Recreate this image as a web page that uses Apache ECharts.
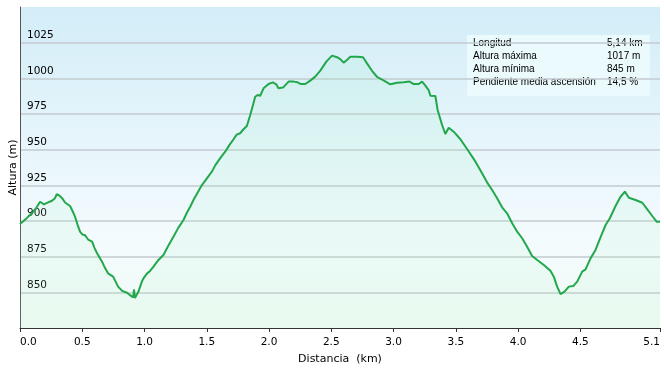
<!DOCTYPE html>
<html>
<head>
<meta charset="utf-8">
<script src="https://cdn.jsdelivr.net/npm/echarts@6/dist/echarts.min.js"></script>
<style>
html,body{margin:0;padding:0;background:#fff;}
#c{width:664px;height:371px;}
</style>
</head>
<body>
<div id="c"></div>
<script>
// Distance along the route (km)
const distKm = [
  0.000,0.054,0.107,0.129,0.161,0.193,0.225,0.257,0.281,0.295,0.314,0.338,0.362,0.378,0.402,0.422,0.442,0.462,0.482,0.502,
  0.523,0.547,0.579,0.599,0.619,0.659,0.683,0.707,0.748,0.768,0.788,0.820,0.860,0.884,0.908,0.916,0.923,0.932,0.949,0.965,
  0.981,0.997,1.021,1.045,1.072,1.112,1.152,1.190,1.232,1.270,1.313,1.340,1.367,1.393,1.427,1.461,1.501,1.541,1.568,1.594,
  1.620,1.648,1.680,1.715,1.740,1.768,1.795,1.822,1.849,1.875,1.889,1.908,1.929,1.956,1.996,2.031,2.058,2.076,2.112,2.157,
  2.197,2.229,2.256,2.291,2.331,2.371,2.412,2.460,2.506,2.546,2.572,2.599,2.626,2.653,2.707,2.755,2.787,2.827,2.867,2.916,
  2.974,3.028,3.081,3.129,3.162,3.202,3.229,3.248,3.282,3.296,3.336,3.354,3.390,3.416,3.443,3.483,3.537,3.596,3.658,3.711,
  3.751,3.792,3.832,3.872,3.912,3.953,3.993,4.033,4.073,4.113,4.154,4.207,4.260,4.287,4.314,4.341,4.373,4.408,4.443,4.475,
  4.515,4.542,4.582,4.622,4.662,4.703,4.737,4.783,4.823,4.858,4.890,4.944,4.998,5.038,5.078,5.113,5.140
];
// Elevation (m)
const elevM = [
  897.9,902.0,906.5,909.0,913.5,911.7,913.0,914.2,916.0,918.9,918.0,916.0,913.0,911.7,910.5,907.0,903.0,897.5,892.5,890.5,
  890.0,887.0,885.5,881.0,877.4,871.5,867.0,863.3,861.0,857.5,854.0,851.0,849.7,848.0,846.5,852.0,846.0,846.5,850.0,854.0,
  858.0,860.5,863.3,865.0,868.0,872.7,876.2,882.5,889.0,895.0,900.7,905.8,910.0,914.7,920.0,925.2,929.9,934.6,939.0,942.3,
  945.5,948.6,953.0,957.3,960.5,961.5,964.3,966.6,974.3,982.5,987.1,988.3,987.8,993.0,996.0,997.2,995.8,993.0,993.5,997.7,
  997.7,997.2,996.0,996.0,998.4,1001.2,1005.4,1011.7,1015.9,1014.8,1013.5,1011.0,1012.8,1015.2,1015.2,1014.8,1010.5,1005.3,1001.1,998.8,
  995.8,996.9,997.2,997.7,996.0,996.0,997.7,995.8,991.8,987.8,987.6,977.8,967.3,961.0,965.4,962.6,957.3,949.8,941.6,933.4,
  927.1,921.7,915.9,909.6,905.4,898.4,892.5,887.9,882.0,875.5,872.7,869.2,865.2,861.0,854.0,848.8,850.5,854.0,854.4,857.5,
  864.5,866.1,873.8,879.7,888.6,897.2,901.9,910.5,917.0,920.6,916.3,914.7,912.8,908.2,903.5,899.5,899.5
];
// X tick values (last one is the route length)
const xTicks = [0, 0.5, 1, 1.5, 2, 2.5, 3, 3.5, 4, 4.5, 5.14];
// Info box
const infoLabels = ['Longitud', 'Altura máxima', 'Altura mínima', 'Pendiente media ascensión'];
const infoValues = ['5,14 km', '1017 m', '845 m', '14,5 %'];

const seriesData = distKm.map((d, i) => [d, elevM[i]]);

const txtFont = '"DejaVu Sans", Verdana, sans-serif';
const boxFont = '"Liberation Sans", Arial, sans-serif';

const graphicChildren = [{
  type: 'rect',
  shape: { x: 0, y: 0, width: 183, height: 61 },
  style: { fill: '#ebfafd' }
}];
infoLabels.forEach((t, i) => {
  graphicChildren.push({
    type: 'text', x: 6, y: 8.5 + i * 12.8,
    style: { text: t, fontFamily: boxFont, fontSize: 10, fill: '#000', verticalAlign: 'middle' }
  });
  graphicChildren.push({
    type: 'text', x: 140, y: 8.5 + i * 12.8,
    style: { text: infoValues[i], fontFamily: boxFont, fontSize: 10, fill: '#000', verticalAlign: 'middle' }
  });
});

const chart = echarts.init(document.getElementById('c'), null, { renderer: 'canvas' });
chart.setOption({
  animation: false,
  backgroundColor: '#ffffff',
  grid: {
    left: 20, right: 4, top: 7, bottom: 43,
    containLabel: false, outerBoundsMode: 'none',
    show: true, borderWidth: 0,
    backgroundColor: {
      type: 'linear', x: 0, y: 0, x2: 0, y2: 1,
      colorStops: [
        { offset: 0, color: '#d3edf8' },
        { offset: 0.72, color: '#f4fbfe' },
        { offset: 1, color: '#f0fbf5' }
      ]
    }
  },
  xAxis: {
    type: 'value', min: 0, max: 5.14,
    name: 'Distancia  (km)', nameLocation: 'middle', nameGap: 26, nameMoveOverlap: false,
    nameTextStyle: { fontFamily: txtFont, fontSize: 11, color: '#000' },
    axisLine: { show: true, lineStyle: { color: '#333', width: 1 } },
    axisTick: { show: true, length: 4, lineStyle: { color: '#333' }, customValues: xTicks },
    axisLabel: {
      customValues: xTicks, margin: 9,
      fontFamily: txtFont, fontSize: 10.5, color: '#000',
      alignMinLabel: 'left', alignMaxLabel: 'right',
      formatter: v => v.toFixed(1)
    },
    splitLine: { show: false }
  },
  yAxis: {
    type: 'value', min: 825, max: 1050, interval: 25,
    name: 'Altura (m)', nameLocation: 'middle', nameGap: 1, nameMoveOverlap: false,
    nameTextStyle: { fontFamily: txtFont, fontSize: 11, color: '#000' },
    axisLine: { show: true, lineStyle: { color: '#555', width: 1 } },
    axisTick: { show: false },
    axisLabel: {
      inside: true, margin: 7, showMinLabel: false, showMaxLabel: false,
      fontFamily: txtFont, fontSize: 10.5, color: '#000',
      verticalAlign: 'bottom', align: 'left', padding: [0, 0, 2, 0],
      formatter: v => String(v)
    },
    splitLine: {
      show: true, showMinLine: false, showMaxLine: false,
      lineStyle: { color: '#c3cbcf', width: 1.5 }
    }
  },
  graphic: [{
    type: 'group', left: 467, top: 35,
    children: graphicChildren
  }],
  series: [{
    type: 'line',
    data: seriesData,
    showSymbol: false,
    smooth: false,
    lineStyle: { color: '#22a84b', width: 2 },
    areaStyle: {
      color: {
        type: 'linear', x: 0, y: 0, x2: 0, y2: 1,
        colorStops: [
          { offset: 0, color: 'rgba(150,235,190,0.22)' },
          { offset: 1, color: 'rgba(170,240,190,0.15)' }
        ]
      }
    },
    z: 3
  }]
});
</script>
</body>
</html>
